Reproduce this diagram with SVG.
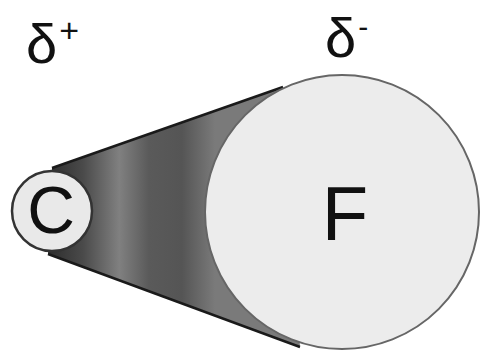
<svg xmlns="http://www.w3.org/2000/svg" width="481" height="351" viewBox="0 0 481 351">
<defs>
<linearGradient id="cone" gradientUnits="userSpaceOnUse" x1="50" y1="0" x2="215" y2="0">
<stop offset="0" stop-color="#2e2e2e"/>
<stop offset="0.2" stop-color="#4a4a4a"/>
<stop offset="0.42" stop-color="#808080"/>
<stop offset="0.6" stop-color="#5a5a5a"/>
<stop offset="0.8" stop-color="#555"/>
<stop offset="1" stop-color="#7a7a7a"/>
</linearGradient>
</defs>
<style>
.lbl{font-family:"Liberation Sans",Arial,sans-serif;fill:#111}
.edge{stroke:#1a1a1a;stroke-width:2.5;fill:none}
</style>
<rect width="481" height="351" fill="#fff"/>
<g id="connectors">
<polygon points="52,168 283,87 300,347 48,254" fill="url(#cone)"/>
<line class="edge" x1="52" y1="168" x2="283" y2="87"/>
<line class="edge" x1="48" y1="254" x2="300" y2="347"/>
</g>
<g id="F">
<circle cx="342" cy="212" r="137" fill="#ececec" stroke="#666" stroke-width="2"/>
<text class="lbl" x="345" y="240" font-size="76" text-anchor="middle">F</text>
</g>
<g id="C">
<circle cx="52" cy="211" r="40" fill="#e9e9e9" stroke="#333" stroke-width="2.5"/>
<text class="lbl" x="51" y="233" font-size="66" text-anchor="middle">C</text>
</g>
<g id="labels">
<text class="lbl" x="26" y="63" font-size="56">δ<tspan font-size="34" dx="2" dy="-21">+</tspan></text>
<text class="lbl" x="325" y="57" font-size="56">δ<tspan font-size="30" dx="2" dy="-20">-</tspan></text>
</g>
</svg>
